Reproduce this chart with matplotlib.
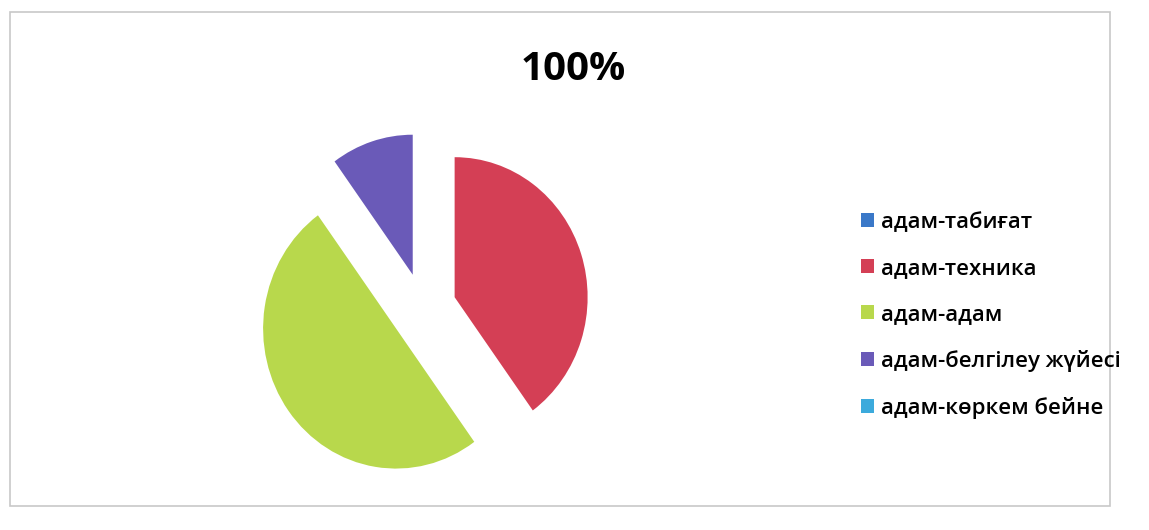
import matplotlib.pyplot as plt
from matplotlib.patches import Patch, Rectangle

plt.rcParams['font.family'] = ['Open Sans', 'DejaVu Sans']

categories = ['адам-табиғат', 'адам-техника', 'адам-адам',
              'адам-белгілеу жүйесі', 'адам-көркем бейне']
values = [0, 40, 50, 10, 0]
colors = ['#3a78c8', '#d43f55', '#b8d84c', '#6a5ab8', '#3caadc']
title = '100%'

W, H = 1149, 530
fig = plt.figure(figsize=(W / 100, H / 100), dpi=100)

# thin frame like the pasted chart box
fig.patches.append(Rectangle((10 / W, 24 / H), 1100 / W, 494 / H,
                             transform=fig.transFigure, fill=False,
                             edgecolor='#c8c8c8', linewidth=1.2))

# pie axes: the photo is a bit stretched vertically
rx, ry = 133, 140
lim = 1.6
cx, cy = 423, H - 308
ax = fig.add_axes([(cx - lim * rx) / W, (cy - lim * ry) / H,
                   2 * lim * rx / W, 2 * lim * ry / H])
ax.pie(values, colors=colors, startangle=90, counterclock=False,
       explode=[0.25] * len(values), radius=1.0,
       wedgeprops=dict(linewidth=0))
ax.set_xlim(-lim, lim)
ax.set_ylim(-lim, lim)
ax.set_aspect('auto')
ax.axis('off')

fig.text(573 / W, 1 - 70 / H, title, ha='center', va='center',
         fontsize=29, fontweight='bold')

handles = [Patch(facecolor=c, edgecolor='none') for c in colors]
fig.legend(handles, categories, loc='upper left',
           bbox_to_anchor=(841 / W, 1 - 192 / H), frameon=False,
           prop={'size': 16, 'weight': 'semibold'},
           handlelength=0.6, handleheight=0.6,
           handletextpad=0.3, labelspacing=1.12)

fig.savefig('out.png', dpi=100)
